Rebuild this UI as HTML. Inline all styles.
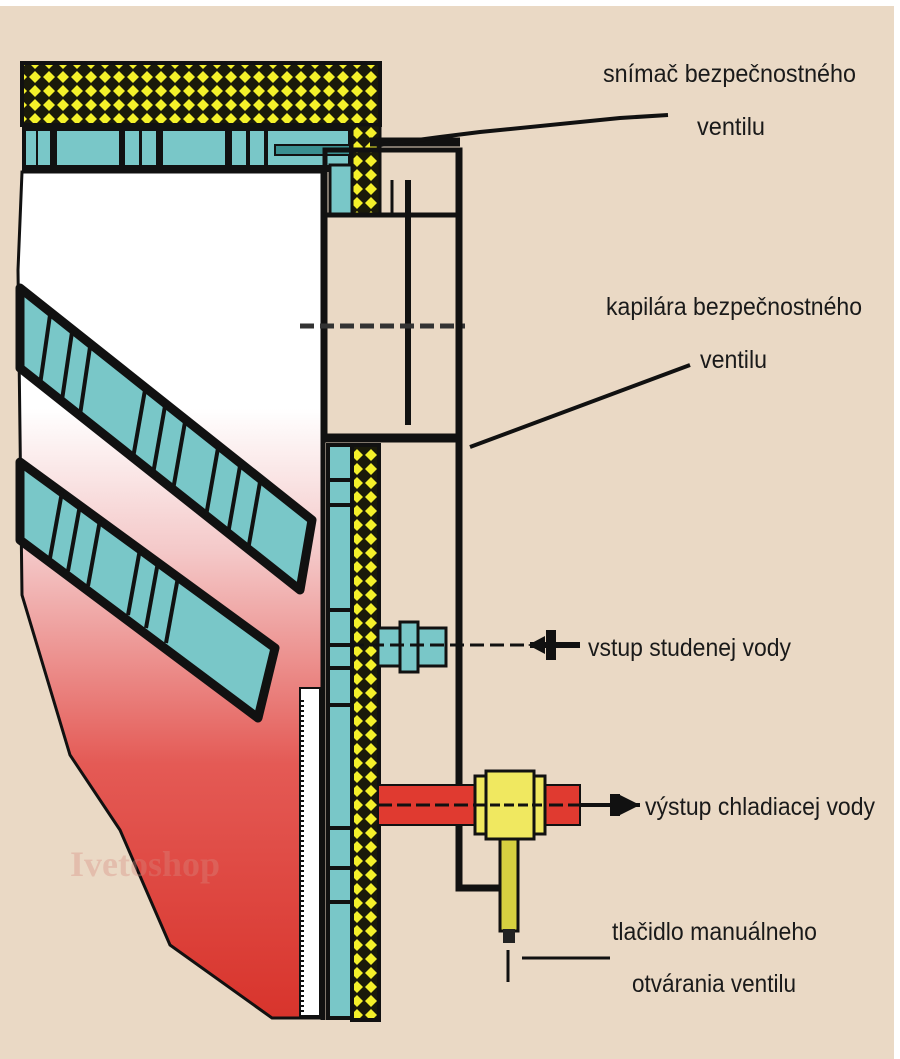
<!DOCTYPE html>
<html><head><meta charset="utf-8"><style>
html,body{margin:0;padding:0;background:#fff;}
svg{display:block;}
text{font-family:"Liberation Sans",sans-serif;font-size:25px;fill:#1a1a1a;}
</style></head><body>
<svg width="900" height="1059" viewBox="0 0 900 1059" xmlns="http://www.w3.org/2000/svg">
<defs>
<linearGradient id="tank" x1="0" y1="0" x2="0" y2="1">
<stop offset="0" stop-color="#ffffff"/>
<stop offset="0.28" stop-color="#ffffff"/>
<stop offset="0.45" stop-color="#f4c8c8"/>
<stop offset="0.7" stop-color="#e45a55"/>
<stop offset="1" stop-color="#d8342c"/>
</linearGradient>
<pattern id="ins" width="14" height="14" patternUnits="userSpaceOnUse">
<rect width="14" height="14" fill="#1a1a0a"/>
<path d="M7 1 L13 7 L7 13 L1 7Z" fill="#f4f02a"/>
</pattern>
</defs>
<rect width="900" height="1059" fill="#ead9c5"/>
<rect width="900" height="6" fill="#fff"/>
<rect x="894" width="6" height="1059" fill="#fff"/>

<path d="M22 172 L322 172 L322 1018 L272 1018 L170 945 L120 830 L70 755 L22 595 L18 270 Z" fill="url(#tank)" stroke="#111" stroke-width="3"/>

<polygon points="20,288 312,520 300,590 20,368" fill="#79c7c8" stroke="#111" stroke-width="9" stroke-linejoin="round"/>
<g stroke="#111" stroke-width="4">
<line x1="50" y1="315" x2="40" y2="385"/><line x1="72" y1="332" x2="62" y2="400"/><line x1="90" y1="347" x2="80" y2="415"/>
<line x1="145" y1="390" x2="133" y2="458"/><line x1="165" y1="406" x2="153" y2="474"/><line x1="185" y1="422" x2="173" y2="490"/>
<line x1="218" y1="448" x2="206" y2="516"/><line x1="240" y1="466" x2="228" y2="534"/><line x1="260" y1="482" x2="248" y2="550"/>
</g>
<polygon points="20,462 275,648 258,718 20,540" fill="#79c7c8" stroke="#111" stroke-width="9" stroke-linejoin="round"/>
<g stroke="#111" stroke-width="4">
<line x1="62" y1="492" x2="50" y2="558"/><line x1="80" y1="505" x2="68" y2="571"/><line x1="100" y1="520" x2="88" y2="586"/>
<line x1="140" y1="549" x2="128" y2="615"/><line x1="158" y1="562" x2="146" y2="628"/><line x1="178" y1="577" x2="166" y2="643"/>
</g>

<rect x="22" y="63" width="358" height="62" fill="url(#ins)" stroke="#111" stroke-width="4"/>
<rect x="22" y="125" width="330" height="47" fill="#111"/>
<g fill="#79c7c8">
<rect x="26" y="131" width="10" height="34"/><rect x="38" y="131" width="12" height="34"/>
<rect x="57" y="131" width="62" height="34"/><rect x="125" y="131" width="14" height="34"/>
<rect x="142" y="131" width="14" height="34"/><rect x="163" y="131" width="62" height="34"/>
<rect x="232" y="131" width="14" height="34"/><rect x="250" y="131" width="14" height="34"/>
<rect x="268" y="131" width="80" height="34"/>
</g>
<rect x="275" y="145" width="75" height="10" fill="#3a8f90" stroke="#111" stroke-width="2"/>
<rect x="330" y="165" width="22" height="50" fill="#79c7c8" stroke="#111" stroke-width="3"/>
<rect x="352" y="125" width="28" height="90" fill="url(#ins)" stroke="#111" stroke-width="3"/>

<line x1="323" y1="172" x2="323" y2="1020" stroke="#111" stroke-width="5"/>
<rect x="328" y="445" width="24" height="573" fill="#79c7c8" stroke="#111" stroke-width="4"/>
<g stroke="#111" stroke-width="4">
<line x1="328" y1="480" x2="352" y2="480"/><line x1="328" y1="505" x2="352" y2="505"/>
<line x1="328" y1="610" x2="352" y2="610"/><line x1="328" y1="645" x2="352" y2="645"/>
<line x1="328" y1="668" x2="352" y2="668"/><line x1="328" y1="705" x2="352" y2="705"/>
<line x1="328" y1="828" x2="352" y2="828"/><line x1="328" y1="868" x2="352" y2="868"/>
<line x1="328" y1="902" x2="352" y2="902"/>
</g>
<rect x="352" y="445" width="27" height="575" fill="url(#ins)" stroke="#111" stroke-width="4"/>
<rect x="300" y="688" width="20" height="328" fill="#fff" stroke="#111" stroke-width="2"/>
<line x1="302" y1="700" x2="302" y2="1012" stroke="#111" stroke-width="4" stroke-dasharray="2 3"/>

<rect x="325" y="150" width="135" height="290" fill="none" stroke="#111" stroke-width="5"/>
<line x1="325" y1="215" x2="460" y2="215" stroke="#111" stroke-width="5"/>
<line x1="325" y1="437" x2="460" y2="437" stroke="#111" stroke-width="7"/>
<line x1="408" y1="180" x2="408" y2="425" stroke="#111" stroke-width="6"/>
<line x1="392" y1="180" x2="392" y2="215" stroke="#111" stroke-width="3"/>
<line x1="370" y1="142" x2="460" y2="142" stroke="#111" stroke-width="9"/>
<line x1="300" y1="326" x2="465" y2="326" stroke="#333" stroke-width="5" stroke-dasharray="14 6"/>
<path d="M459 150 L459 888 L500 888" fill="none" stroke="#111" stroke-width="7"/>

<rect x="378" y="628" width="68" height="38" fill="#79c7c8" stroke="#111" stroke-width="3"/>
<rect x="400" y="622" width="18" height="50" fill="#79c7c8" stroke="#111" stroke-width="3"/>
<line x1="330" y1="645" x2="530" y2="645" stroke="#111" stroke-width="3" stroke-dasharray="14 6"/>
<line x1="530" y1="645" x2="580" y2="645" stroke="#111" stroke-width="6"/>
<path d="M528 645 L545 636 L545 654 Z" fill="#111"/>
<rect x="546" y="630" width="10" height="30" fill="#111"/>

<rect x="378" y="785" width="202" height="40" fill="#e03a30" stroke="#111" stroke-width="2"/>
<line x1="378" y1="805" x2="580" y2="805" stroke="#111" stroke-width="3" stroke-dasharray="14 5"/>
<rect x="475" y="776" width="70" height="58" fill="#f0e860" stroke="#111" stroke-width="3"/>
<rect x="486" y="771" width="48" height="68" fill="#f0e860" stroke="#111" stroke-width="3"/>
<line x1="476" y1="805" x2="545" y2="805" stroke="#111" stroke-width="3" stroke-dasharray="10 4"/>
<rect x="500" y="839" width="18" height="92" fill="#d6d040" stroke="#111" stroke-width="3"/>
<rect x="503" y="929" width="12" height="14" fill="#222"/>
<line x1="508" y1="950" x2="508" y2="982" stroke="#111" stroke-width="3"/>
<line x1="580" y1="805" x2="640" y2="805" stroke="#111" stroke-width="4"/>
<rect x="610" y="794" width="10" height="22" fill="#111"/>
<path d="M640 805 L620 795 L620 815 Z" fill="#111"/>

<path d="M380 145 L440 137 L480 132 L620 118 L668 115" fill="none" stroke="#111" stroke-width="4"/>
<path d="M470 447 L690 365" fill="none" stroke="#111" stroke-width="4"/>
<line x1="522" y1="958" x2="610" y2="958" stroke="#111" stroke-width="3"/>

<text x="603" y="82" textLength="253" lengthAdjust="spacingAndGlyphs">snímač bezpečnostného</text>
<text x="697" y="135" textLength="68" lengthAdjust="spacingAndGlyphs">ventilu</text>
<text x="606" y="315" textLength="256" lengthAdjust="spacingAndGlyphs">kapilára bezpečnostného</text>
<text x="700" y="368" textLength="67" lengthAdjust="spacingAndGlyphs">ventilu</text>
<text x="588" y="656" textLength="203" lengthAdjust="spacingAndGlyphs">vstup studenej vody</text>
<text x="645" y="815" textLength="230" lengthAdjust="spacingAndGlyphs">výstup chladiacej vody</text>
<text x="612" y="940" textLength="205" lengthAdjust="spacingAndGlyphs">tlačidlo manuálneho</text>
<text x="632" y="992" textLength="164" lengthAdjust="spacingAndGlyphs">otvárania ventilu</text>
<text x="70" y="876" style="font-family:'Liberation Serif',serif;font-size:36px;font-weight:bold;fill:#d88a80;opacity:0.35">Ivetoshop</text>
</svg>
</body></html>
